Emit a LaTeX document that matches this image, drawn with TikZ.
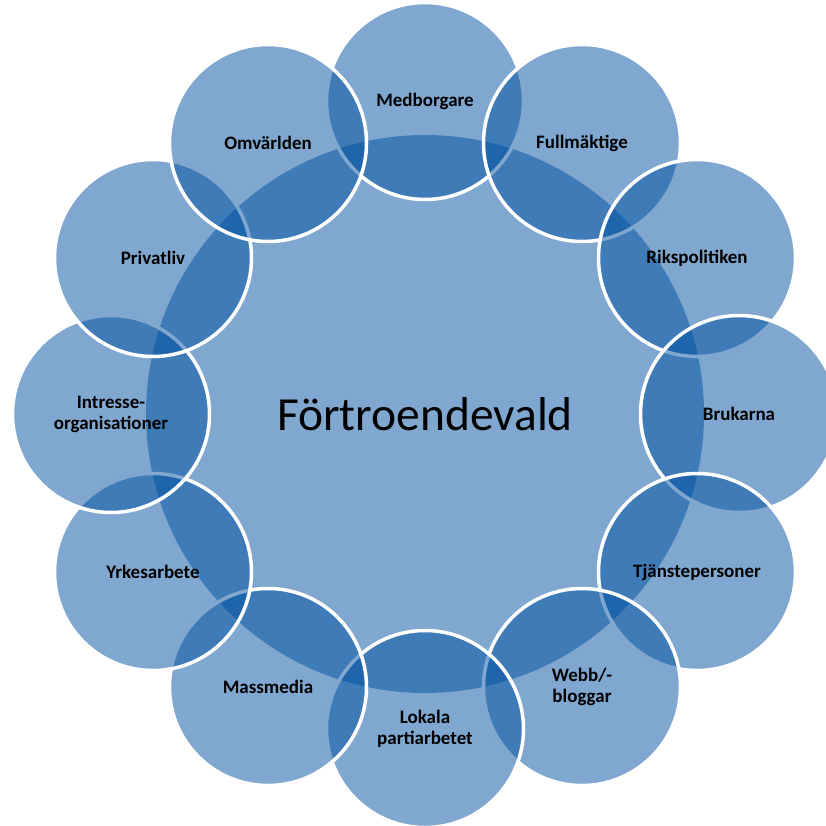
\documentclass[tikz,border=0pt]{standalone}
\usepackage{fontspec}
\setmainfont{Carlito}
\definecolor{ringblue}{RGB}{0,80,160}
\begin{document}
\begin{tikzpicture}[x=1pt,y=-1pt,
  disc/.style={circle, fill=ringblue, fill opacity=0.5, text opacity=1,
    draw=white, draw opacity=1, line width=3.5pt, minimum size=197pt, inner sep=0pt,
    font=\bfseries\fontsize{19}{21}\selectfont, align=center, text=black},
  hub/.style={circle, fill=ringblue, fill opacity=0.5, text opacity=1,
    minimum size=558pt, inner sep=0pt, text=black,
    font=\fontsize{47.5}{54}\selectfont}]
\useasboundingbox (0,0) rectangle (826,826);
\clip (0,0) rectangle (826,826);
\node[hub] (hub) at (425,414) {Förtroendevald};
\node[disc] (med)   at (425,101) {Medborgare};
\node[disc] (full)  at (582,143) {Fullmäktige};
\node[disc] (riks)  at (697,258) {Rikspolitiken};
\node[disc] (bruk)  at (739,414) {Brukarna};
\node[disc] (tjan)  at (697,572) {Tjänstepersoner};
\node[disc] (webb)  at (582,687) {Webb/-\\bloggar};
\node[disc] (lok)   at (425,729) {Lokala\\partiarbetet};
\node[disc] (mass)  at (268,687) {Massmedia};
\node[disc] (yrk)   at (153,572) {Yrkesarbete};
\node[disc] (intr)  at (111,414) {Intresse-\\organisationer};
\node[disc] (priv)  at (153,258) {Privatliv};
\node[disc] (omv)   at (268,143) {Omvärlden};
\end{tikzpicture}
\end{document}
